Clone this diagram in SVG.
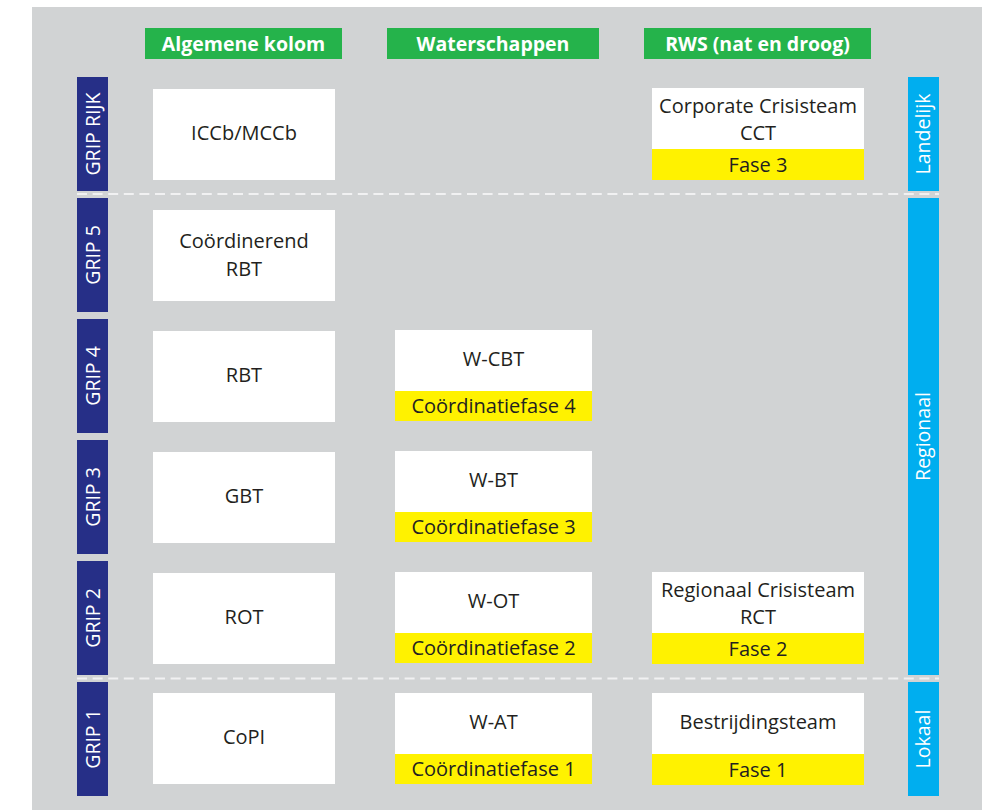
<svg xmlns="http://www.w3.org/2000/svg" width="982" height="810" viewBox="0 0 982 810">
  <style>
    .bg { fill: #d1d3d4; }
    .hdr { fill: #25b34b; }
    .hdr-t { font-family: "Open Sans", "Liberation Sans", sans-serif; font-weight: bold; font-size: 19.5px; fill: #ffffff; text-anchor: middle; }
    .grip { fill: #262f87; }
    .level { fill: #00aeef; }
    .side-t { font-family: "Open Sans", "Liberation Sans", sans-serif; font-size: 19.5px; fill: #ffffff; text-anchor: middle; }
    .box { fill: #ffffff; }
    .phase { fill: #fff200; }
    .t { font-family: "Open Sans", "Liberation Sans", sans-serif; font-size: 20px; fill: #231f20; text-anchor: middle; }
    .sep { stroke: #f1f1f2; stroke-width: 2; stroke-dasharray: 10 5.6; fill: none; }
  </style>

  <rect class="bg" x="32" y="7" width="950" height="803"/>

  <!-- column headers -->
  <g id="hdr-algemeen">
    <rect class="hdr" x="145" y="28" width="197" height="31"/>
    <text class="hdr-t" x="243.5" y="50.5">Algemene kolom</text>
  </g>
  <g id="hdr-waterschappen">
    <rect class="hdr" x="387" y="28" width="212" height="31"/>
    <text class="hdr-t" x="493" y="50.5">Waterschappen</text>
  </g>
  <g id="hdr-rws">
    <rect class="hdr" x="644" y="28" width="227" height="31"/>
    <text class="hdr-t" x="757.5" y="50.5">RWS (nat en droog)</text>
  </g>

  <!-- GRIP levels (left) -->
  <g id="grip-rijk">
    <rect class="grip" x="77" y="77" width="31" height="114"/>
    <text class="side-t" transform="translate(100,134) rotate(-90)">GRIP RIJK</text>
  </g>
  <g id="grip-5">
    <rect class="grip" x="77" y="198" width="31" height="114"/>
    <text class="side-t" transform="translate(100,255) rotate(-90)">GRIP 5</text>
  </g>
  <g id="grip-4">
    <rect class="grip" x="77" y="319" width="31" height="114"/>
    <text class="side-t" transform="translate(100,376) rotate(-90)">GRIP 4</text>
  </g>
  <g id="grip-3">
    <rect class="grip" x="77" y="440" width="31" height="114"/>
    <text class="side-t" transform="translate(100,497) rotate(-90)">GRIP 3</text>
  </g>
  <g id="grip-2">
    <rect class="grip" x="77" y="561" width="31" height="114"/>
    <text class="side-t" transform="translate(100,618) rotate(-90)">GRIP 2</text>
  </g>
  <g id="grip-1">
    <rect class="grip" x="77" y="682" width="31" height="114"/>
    <text class="side-t" transform="translate(100,739) rotate(-90)">GRIP 1</text>
  </g>

  <!-- scale levels (right) -->
  <g id="landelijk">
    <rect class="level" x="908" y="77" width="31" height="114"/>
    <text class="side-t" transform="translate(930,134) rotate(-90)">Landelijk</text>
  </g>
  <g id="regionaal">
    <rect class="level" x="908" y="198" width="31" height="477"/>
    <text class="side-t" transform="translate(930,436.5) rotate(-90)">Regionaal</text>
  </g>
  <g id="lokaal">
    <rect class="level" x="908" y="682" width="31" height="114"/>
    <text class="side-t" transform="translate(930,739) rotate(-90)">Lokaal</text>
  </g>

  <!-- dashed separators -->
  <g id="separators">
    <line class="sep" x1="77" y1="194" x2="939" y2="194"/>
    <line class="sep" x1="77" y1="678.5" x2="939" y2="678.5"/>
  </g>

  <!-- Algemene kolom -->
  <g id="iccb">
    <rect class="box" x="153" y="89" width="182" height="91"/>
    <text class="t" x="244" y="140">ICCb/MCCb</text>
  </g>
  <g id="crbt">
    <rect class="box" x="153" y="210" width="182" height="91"/>
    <text class="t" x="244" y="248">Coördinerend</text>
    <text class="t" x="244" y="275.5">RBT</text>
  </g>
  <g id="rbt">
    <rect class="box" x="153" y="331" width="182" height="91"/>
    <text class="t" x="244" y="382">RBT</text>
  </g>
  <g id="gbt">
    <rect class="box" x="153" y="452" width="182" height="91"/>
    <text class="t" x="244" y="503">GBT</text>
  </g>
  <g id="rot">
    <rect class="box" x="153" y="573" width="182" height="91"/>
    <text class="t" x="244" y="624">ROT</text>
  </g>
  <g id="copi">
    <rect class="box" x="153" y="693" width="182" height="91"/>
    <text class="t" x="244" y="744">CoPI</text>
  </g>

  <!-- Waterschappen -->
  <g id="w-cbt">
    <rect class="box" x="395" y="330" width="197" height="91"/>
    <rect class="phase" x="395" y="391" width="197" height="30"/>
    <text class="t" x="493.5" y="366">W-CBT</text>
    <text class="t" x="493.5" y="413">Coördinatiefase 4</text>
  </g>
  <g id="w-bt">
    <rect class="box" x="395" y="451" width="197" height="91"/>
    <rect class="phase" x="395" y="512" width="197" height="30"/>
    <text class="t" x="493.5" y="487">W-BT</text>
    <text class="t" x="493.5" y="534">Coördinatiefase 3</text>
  </g>
  <g id="w-ot">
    <rect class="box" x="395" y="572" width="197" height="91"/>
    <rect class="phase" x="395" y="633" width="197" height="30"/>
    <text class="t" x="493.5" y="608">W-OT</text>
    <text class="t" x="493.5" y="655">Coördinatiefase 2</text>
  </g>
  <g id="w-at">
    <rect class="box" x="395" y="693" width="197" height="91"/>
    <rect class="phase" x="395" y="754" width="197" height="30"/>
    <text class="t" x="493.5" y="729">W-AT</text>
    <text class="t" x="493.5" y="776">Coördinatiefase 1</text>
  </g>

  <!-- RWS -->
  <g id="cct">
    <rect class="box" x="652" y="88" width="212" height="92"/>
    <rect class="phase" x="652" y="149" width="212" height="31"/>
    <text class="t" x="758" y="113">Corporate Crisisteam</text>
    <text class="t" x="758" y="140">CCT</text>
    <text class="t" x="758" y="171.5">Fase 3</text>
  </g>
  <g id="rct">
    <rect class="box" x="652" y="572" width="212" height="92"/>
    <rect class="phase" x="652" y="633" width="212" height="31"/>
    <text class="t" x="758" y="597">Regionaal Crisisteam</text>
    <text class="t" x="758" y="624">RCT</text>
    <text class="t" x="758" y="655.5">Fase 2</text>
  </g>
  <g id="bestrijding">
    <rect class="box" x="652" y="693" width="212" height="92"/>
    <rect class="phase" x="652" y="754" width="212" height="31"/>
    <text class="t" x="758" y="729">Bestrijdingsteam</text>
    <text class="t" x="758" y="776.5">Fase 1</text>
  </g>
</svg>
